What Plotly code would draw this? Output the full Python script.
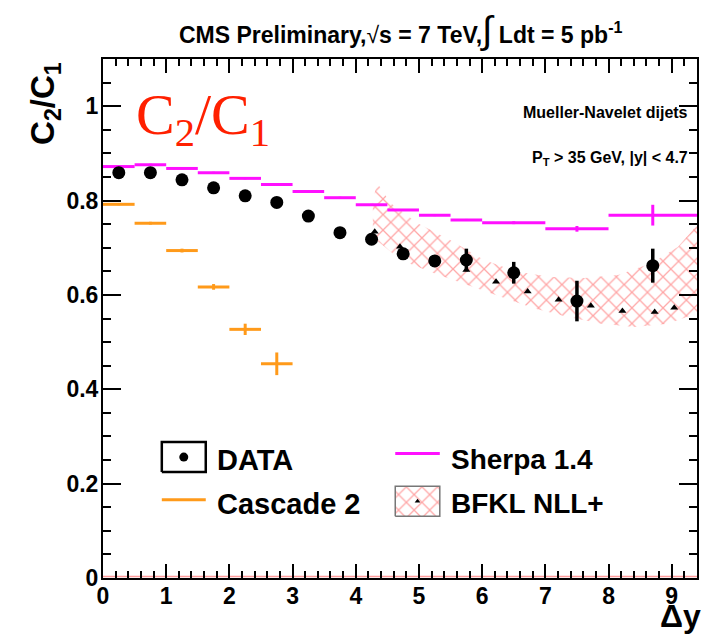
import plotly.graph_objects as go

# ---- measured ratio C2/C1 versus rapidity separation ----
data_x = [0.25, 0.75, 1.25, 1.75, 2.25, 2.75, 3.25, 3.75, 4.25, 4.75, 5.25, 5.75, 6.5, 7.5, 8.7]
data_y = [0.859, 0.859, 0.844, 0.827, 0.810, 0.796, 0.767, 0.732, 0.718, 0.687, 0.672, 0.674, 0.647, 0.587, 0.662]
data_err = [0.004, 0.004, 0.004, 0.005, 0.005, 0.005, 0.006, 0.007, 0.010, 0.010, 0.010, 0.024, 0.023, 0.043, 0.036]

# ---- Sherpa 1.4 prediction (same binning as data) ----
sherpa_x = data_x
sherpa_halfw = [0.25] * 12 + [0.5, 0.5, 0.7]
sherpa_y = [0.872, 0.876, 0.868, 0.859, 0.847, 0.834, 0.819, 0.806, 0.791, 0.780, 0.769, 0.759, 0.753, 0.740, 0.769]
sherpa_err = [0.002] * 12 + [0.003, 0.006, 0.022]

# ---- Cascade 2 prediction ----
cascade_x = [0.25, 0.75, 1.25, 1.75, 2.25, 2.75]
cascade_halfw = [0.25] * 6
cascade_y = [0.792, 0.752, 0.694, 0.617, 0.527, 0.454]
cascade_err = [0.002, 0.003, 0.004, 0.006, 0.012, 0.024]

# ---- BFKL NLL+ central values and uncertainty band ----
bfkl_x = [4.3, 4.7, 5.25, 5.75, 6.22, 6.72, 7.21, 7.72, 8.22, 8.73, 9.04]
bfkl_y = [0.734, 0.702, 0.676, 0.653, 0.628, 0.607, 0.590, 0.577, 0.566, 0.564, 0.573]
band_up_x = [4.27, 4.34, 4.55, 4.98, 5.5, 6.03, 6.56, 7.1, 7.62, 8.15, 8.68, 9.1, 9.4]
band_up_y = [0.80, 0.837, 0.795, 0.752, 0.716, 0.674, 0.649, 0.638, 0.636, 0.642, 0.667, 0.702, 0.748]
band_lo_x = [4.27, 4.71, 5.24, 5.76, 6.3, 6.83, 7.36, 7.89, 8.41, 8.94, 9.4]
band_lo_y = [0.723, 0.674, 0.646, 0.621, 0.596, 0.571, 0.553, 0.539, 0.532, 0.539, 0.561]

# axis ticks
x_ticks = [0, 1, 2, 3, 4, 5, 6, 7, 8, 9]
y_ticks = [0, 0.2, 0.4, 0.6, 0.8, 1.0]
y_ticktext = ["0", "0.2", "0.4", "0.6", "0.8", "1"]

FONT = "Liberation Sans, Arial, Helvetica, sans-serif"
MAGENTA = "#ff10ff"
ORANGE = "#ff9a1a"
HATCH_RED = "rgba(255,60,60,0.9)"
HATCH = dict(shape="x", fgcolor=HATCH_RED, bgcolor="rgba(0,0,0,0)", size=11, solidity=0.22)

fig = go.Figure()

# BFKL band (hatched)
fig.add_trace(go.Scatter(
    x=band_up_x + band_lo_x[::-1],
    y=band_up_y + band_lo_y[::-1],
    mode="lines", fill="toself", line=dict(width=0, color=HATCH_RED),
    fillcolor="rgba(0,0,0,0)", fillpattern=HATCH,
    hoverinfo="skip", showlegend=False,
))
# zero-content BFKL bins along the baseline
fig.add_trace(go.Scatter(
    x=[0, 9.4], y=[0.003, 0.003], mode="lines",
    line=dict(color="rgba(255,90,90,0.6)", width=1.5), showlegend=False, hoverinfo="skip",
))

# Sherpa
fig.add_trace(go.Scatter(
    x=sherpa_x, y=sherpa_y, mode="markers", marker=dict(size=1, color=MAGENTA),
    error_x=dict(type="data", array=sherpa_halfw, color=MAGENTA, thickness=3, width=0),
    error_y=dict(type="data", array=sherpa_err, color=MAGENTA, thickness=3, width=0),
    showlegend=False,
))
# Cascade
fig.add_trace(go.Scatter(
    x=cascade_x, y=cascade_y, mode="markers", marker=dict(size=1, color=ORANGE),
    error_x=dict(type="data", array=cascade_halfw, color=ORANGE, thickness=3, width=0),
    error_y=dict(type="data", array=cascade_err, color=ORANGE, thickness=3, width=0),
    showlegend=False,
))
# BFKL central values
fig.add_trace(go.Scatter(
    x=bfkl_x, y=bfkl_y, mode="markers",
    marker=dict(symbol="triangle-up", size=7, color="black"), showlegend=False,
))
# Data
fig.add_trace(go.Scatter(
    x=data_x, y=data_y, mode="markers",
    marker=dict(symbol="circle", size=13, color="black"),
    error_y=dict(type="data", array=data_err, color="black", thickness=3.5, width=0),
    showlegend=False,
))

# ---- legend drawn on an overlay frame spanning the plot area (0..1) ----
def leg(trace):
    trace.update(xaxis="x2", yaxis="y2", showlegend=False, hoverinfo="skip")
    fig.add_trace(trace)

bx0, bx1 = 0.099, 0.173
sx0, sx1 = 0.492, 0.567
row1, row2 = 0.233, 0.148
bh = 0.029
leg(go.Scatter(x=[bx0, bx1, bx1, bx0, bx0], y=[row1 - bh, row1 - bh, row1 + bh, row1 + bh, row1 - bh],
               mode="lines", line=dict(color="black", width=2.5)))
leg(go.Scatter(x=[(bx0 + bx1) / 2], y=[row1], mode="markers", marker=dict(size=9, color="black")))
leg(go.Scatter(x=[bx0, bx1], y=[row2 + 0.003, row2 + 0.003], mode="lines", line=dict(color=ORANGE, width=3)))
leg(go.Scatter(x=[sx0, sx1], y=[row1 + 0.007, row1 + 0.007], mode="lines", line=dict(color=MAGENTA, width=3)))
leg(go.Scatter(x=[sx0, sx1, sx1, sx0, sx0], y=[row2 - bh, row2 - bh, row2 + bh, row2 + bh, row2 - bh],
               mode="lines", fill="toself", fillcolor="rgba(0,0,0,0)", fillpattern=HATCH,
               line=dict(color="#777777", width=1.5)))
leg(go.Scatter(x=[(sx0 + sx1) / 2], y=[row2], mode="markers",
               marker=dict(symbol="triangle-up", size=5, color="black")))

axis_common = dict(
    showline=True, linecolor="black", linewidth=2, mirror="allticks",
    ticks="inside", tickcolor="black", tickwidth=2,
    showgrid=False, zeroline=False,
    tickfont=dict(family=FONT, size=23, color="black", weight="bold"),
)

fig.update_layout(
    width=717, height=635,
    margin=dict(l=103, r=20, t=59, b=57),
    paper_bgcolor="white", plot_bgcolor="white",
    showlegend=False,
    xaxis=dict(range=[0, 9.4], tickvals=x_ticks, ticklen=14, ticklabelstandoff=-4,
               minor=dict(dtick=0.2, ticks="inside", ticklen=7, tickwidth=1.5, tickcolor="black"),
               **axis_common),
    yaxis=dict(range=[0, 1.1], tickvals=y_ticks, ticktext=y_ticktext, ticklen=18, ticklabelstandoff=-2,
               minor=dict(dtick=0.05, ticks="inside", ticklen=8, tickwidth=1.5, tickcolor="black"),
               **axis_common),
    xaxis2=dict(domain=[0, 1], range=[0, 1], overlaying="x", anchor="y2", visible=False),
    yaxis2=dict(domain=[0, 1], range=[0, 1], overlaying="y", anchor="x2", visible=False),
)

bold = lambda s, c="black": dict(family=FONT, size=s, color=c, weight="bold")
ann = [
    dict(text="CMS Preliminary,<span style='font-weight:normal'>√</span>s = 7 TeV,"
              "<span style='font-size:38px;font-weight:normal'>∫</span> Ldt = 5 pb<sup>-1</sup>",
         x=0.5, y=1, yshift=29, xanchor="center", yanchor="middle", font=bold(23)),
    dict(text="C<sub>2</sub>/C<sub>1</sub>", x=-0.098, y=0.915, textangle=-90,
         xanchor="center", yanchor="middle", font=bold(33)),
    dict(text="Δy", x=0.972, y=-0.073, xanchor="center", yanchor="middle", font=bold(32)),
    dict(text="Mueller-Navelet dijets", x=0.988, y=0.896, xanchor="right", yanchor="middle", font=bold(16)),
    dict(text="P<sub>T</sub> > 35 GeV, |y| < 4.7", x=0.988, y=0.809, xanchor="right", yanchor="middle",
         font=bold(16)),
    dict(text="C<sub>2</sub>/C<sub>1</sub>", x=0.052, y=0.885, xanchor="left", yanchor="middle",
         font=dict(family="Liberation Serif, Times New Roman, serif", size=58, color="#ff2000")),
    dict(text="DATA", x=0.189, y=0.228, xanchor="left", yanchor="middle", font=bold(29)),
    dict(text="Cascade 2", x=0.189, y=0.143, xanchor="left", yanchor="middle", font=bold(29)),
    dict(text="Sherpa 1.4", x=0.582, y=0.228, xanchor="left", yanchor="middle", font=bold(28)),
    dict(text="BFKL NLL+", x=0.582, y=0.143, xanchor="left", yanchor="middle", font=bold(28)),
]
for a in ann:
    a.update(xref="paper", yref="paper", showarrow=False)
fig.update_layout(annotations=ann)

fig.write_html("out.html")
